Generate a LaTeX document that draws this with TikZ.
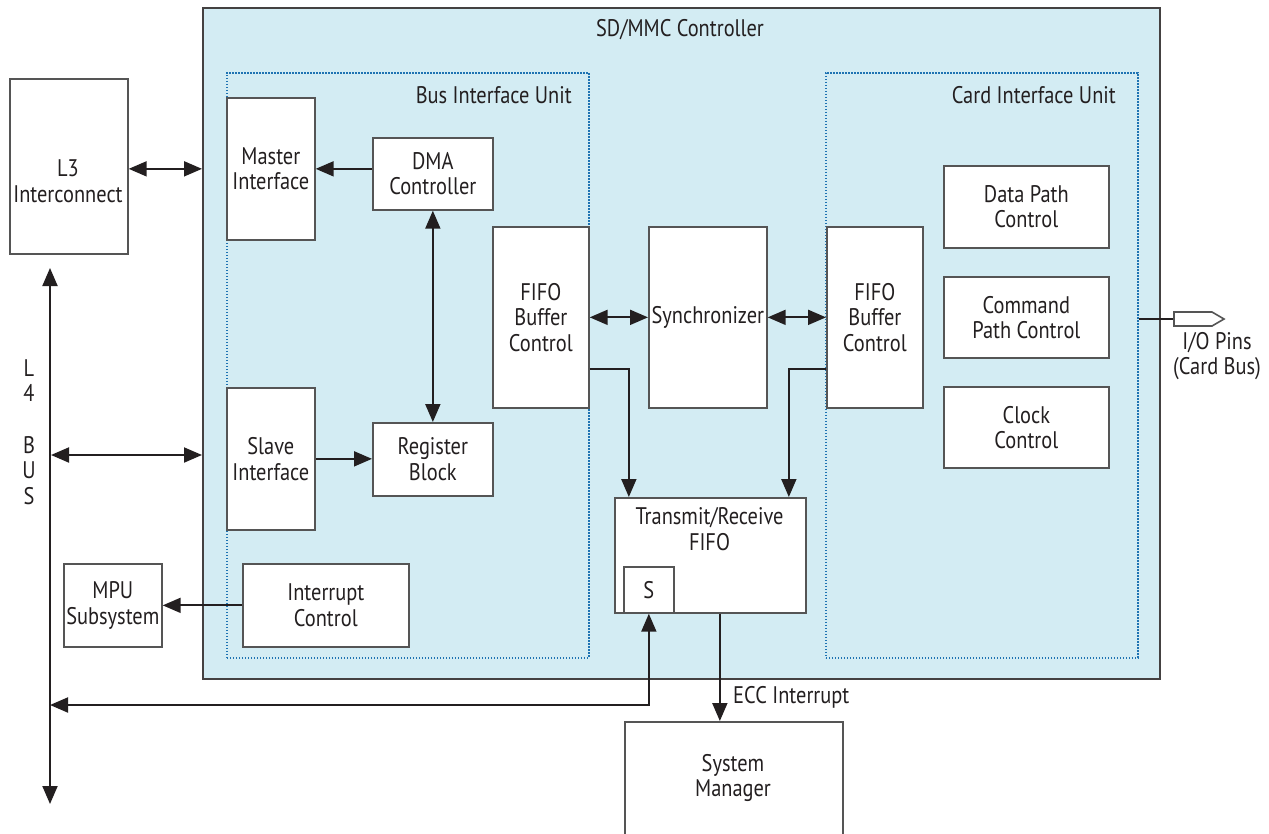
\documentclass[tikz,border=0pt]{standalone}
\usepackage{fontspec}
\setmainfont[FakeStretch=0.85]{PT Sans}
\usetikzlibrary{arrows.meta}
\definecolor{ctrlfill}{RGB}{211,236,243}
\definecolor{dotblue}{RGB}{30,115,178}
\definecolor{boxgray}{RGB}{85,85,85}
\definecolor{ink}{RGB}{35,31,32}
\newcommand\dgfont{\fontsize{24}{25.5}\selectfont}
\tikzset{
  blk/.style={draw=boxgray, line width=1.7pt, fill=white, inner sep=0pt, align=center,
    font=\dgfont, text=ink, anchor=north west},
  txt/.style={inner sep=0pt, align=center, font=\dgfont, text=ink},
  unit/.style={draw=dotblue, line width=1.7pt, dash pattern=on 1.6pt off 1.4pt, inner sep=0pt, anchor=north west},
  ctrlbox/.style={draw=ink!85, line width=1.8pt, fill=ctrlfill, inner sep=0pt, anchor=north west},
  conn/.style={draw=ink, line width=1.9pt},
  arr/.style={conn, -{Triangle[length=18pt,width=15pt]}},
  dbl/.style={conn, {Triangle[length=18pt,width=15pt]}-{Triangle[length=18pt,width=15pt]}},
}
\begin{document}
\begin{tikzpicture}[x=1pt,y=-1pt]
\useasboundingbox (0,0) rectangle (1269,833);
% outer controller
\node[ctrlbox, minimum width=957pt, minimum height=671pt] (ctrl) at (202,7) {};
\node[txt] (ctrlt) at (680,30) {SD/MMC Controller};
% units
\node[unit, minimum width=362pt, minimum height=585pt] (biu) at (226,72) {};
\node[txt, anchor=east] (biut) at (572,95) {Bus Interface Unit};
\node[unit, minimum width=312pt, minimum height=585pt] (ciu) at (825,72) {};
\node[txt, anchor=east] (ciut) at (1116,95) {Card Interface Unit};
% blocks
\node[blk, minimum width=118pt, minimum height=175pt] (l3) at (9,78) {};
\node[txt] (l3t) at (68,181) {L3\\Interconnect};
\node[blk, minimum width=88pt, minimum height=142pt] (master) at (226,97) {Master\\Interface};
\node[blk, minimum width=120pt, minimum height=72pt] (dma) at (372,137) {DMA\\Controller};
\node[blk, minimum width=96pt, minimum height=181pt] (fifol) at (492,226) {FIFO\\Buffer\\Control};
\node[blk, minimum width=118pt, minimum height=181pt] (sync) at (648,226) {Synchronizer};
\node[blk, minimum width=96pt, minimum height=181pt] (fifor) at (826,226) {FIFO\\Buffer\\Control};
\node[blk, minimum width=165pt, minimum height=82pt] (dpc) at (943,165) {Data Path\\Control};
\node[blk, minimum width=165pt, minimum height=81pt] (cpc) at (943,276) {Command\\Path Control};
\node[blk, minimum width=165pt, minimum height=81pt] (clk) at (943,386) {Clock\\Control};
\node[blk, minimum width=88pt, minimum height=142pt] (slave) at (226,387) {Slave\\Interface};
\node[blk, minimum width=120pt, minimum height=73pt] (reg) at (372,422) {Register\\Block};
\node[blk, minimum width=191pt, minimum height=115pt] (tx) at (614,497) {};
\node[txt] (txt1) at (709.5,529) {Transmit/Receive\\FIFO};
\node[blk, minimum width=50pt, minimum height=46pt] (sbox) at (623,566) {S};
\node[blk, minimum width=166pt, minimum height=83pt] (intr) at (242,563) {Interrupt\\Control};
\node[blk, minimum width=98pt, minimum height=83pt] (mpu) at (63,563) {MPU\\Subsystem};
\node[blk, minimum width=218pt, minimum height=125pt] (sysm) at (624,721) {};
\node[txt] (sysmt) at (733,778) {System\\Manager};
% L4 bus
\coordinate (l4top) at (50,268);
\coordinate (l4bot) at (50,804);
\coordinate (l4slave) at (51,455);
\coordinate (l4ecc) at (50,705);
\draw[dbl] (l4top) -- (l4bot);
\node[txt] (l4t) at (29,432) {L\\4\\[26pt]B\\U\\S};
% connectors
\draw[dbl] (l3.east |- master.west) -- (ctrl.west |- master.west);
\draw[arr] (dma.west |- master.east) -- (master.east);
\draw[dbl] (dma.south) -- (reg.north);
\draw[dbl] (l4slave) -- (ctrl.west |- l4slave);
\draw[arr] (slave.east) -- (reg.west |- slave.east);
\draw[dbl] (fifol.east) -- (sync.west);
\draw[dbl] (sync.east) -- (fifor.west);
\draw[arr] ([yshift=-52pt]fifol.east) -| ([xshift=-81.5pt]tx.north);
\draw[arr] ([yshift=-52pt]fifor.west) -| ([xshift=78.5pt]tx.north);
\draw[arr] (intr.west) -- (mpu.east |- intr.west);
\draw[dbl] (sbox.south) |- (l4ecc);
\draw[arr] ([xshift=9.5pt]tx.south) -- ([xshift=9.5pt]tx.south |- sysm.north);
\node[txt, anchor=west] (ecc) at (733,697) {ECC Interrupt};
% I/O pins
\coordinate (iopin) at (1174,319);
\draw[conn] (ciu.east |- iopin) -- (iopin);
\draw[draw=boxgray, line width=1.6pt, fill=white] (iopin) -- (1174,312) -- (1212,312) -- (1224,319) -- (1212,326) -- (1174,326) -- cycle;
\node[txt, anchor=north west] (iot) at (1173,332) {I/O Pins\\(Card Bus)};
\end{tikzpicture}
\end{document}
